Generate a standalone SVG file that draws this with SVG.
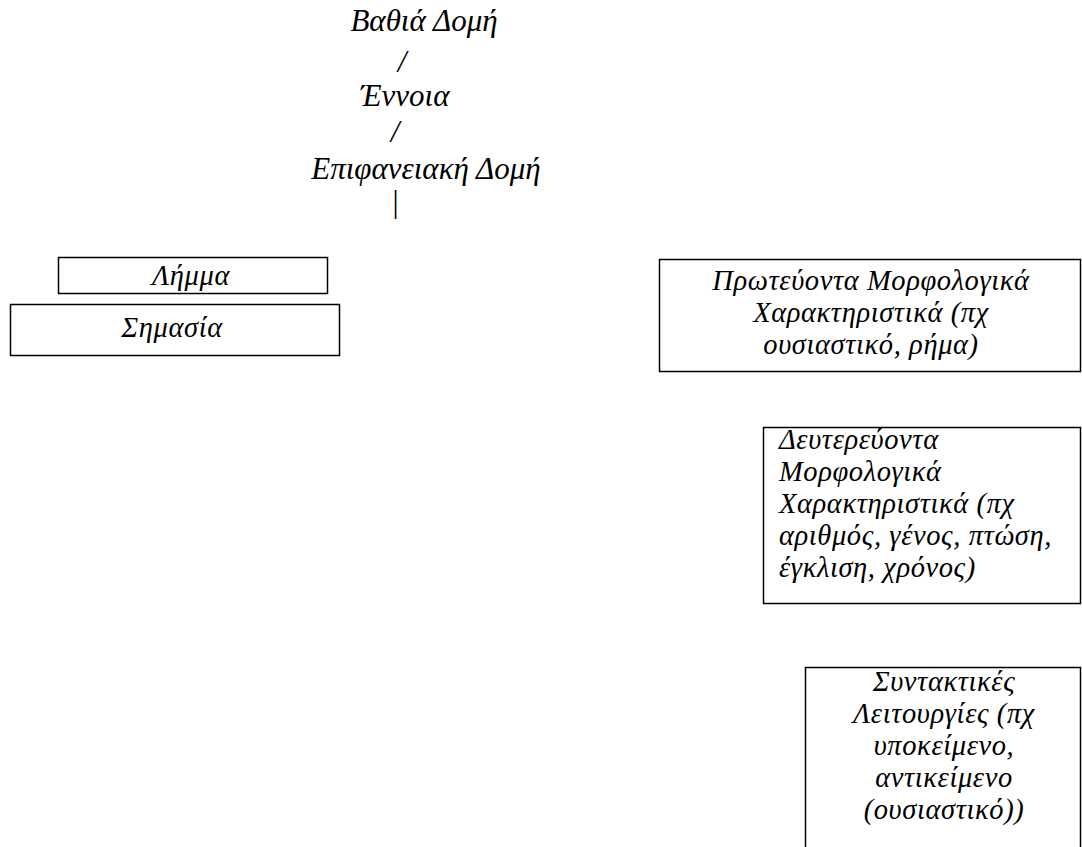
<svg xmlns="http://www.w3.org/2000/svg" width="1082" height="847" viewBox="0 0 1082 847">
<style>
text{font-family:"Liberation Serif","Times New Roman",serif;font-style:italic;font-size:31px;fill:#000}
.b text{font-size:28.5px;letter-spacing:0.6px}
.c{text-anchor:middle}
.box{fill:#fff;stroke:#000;stroke-width:1.5}
</style>
<rect width="1082" height="847" fill="#fff"/>
<g id="deep"><text class="c" x="424" y="31">Βαθιά Δομή</text></g>
<g id="connectors">
<text class="c" x="402" y="72">/</text>
<text class="c" x="395" y="142">/</text>
<text class="c" x="395" y="212">|</text>
</g>
<g id="concept"><text class="c" x="405" y="106">Έννοια</text></g>
<g id="surface"><text class="c" x="426" y="179">Επιφανειακή Δομή</text></g>
<g id="lemma" class="b"><rect class="box" x="58.5" y="257.5" width="269" height="36"/><text class="c" x="191" y="285">Λήμμα</text></g>
<g id="meaning" class="b"><rect class="box" x="10.5" y="304.5" width="329" height="51"/><text class="c" x="172" y="337">Σημασία</text></g>
<g id="primary" class="b"><rect class="box" x="659.5" y="259.5" width="421" height="112"/>
<text class="c" x="871" y="290">Πρωτεύοντα Μορφολογικά</text>
<text class="c" x="871" y="322">Χαρακτηριστικά (πχ</text>
<text class="c" x="871" y="354">ουσιαστικό, ρήμα)</text></g>
<g id="secondary" class="b"><rect class="box" x="763.5" y="427.5" width="317" height="176"/>
<text x="779" y="449">Δευτερεύοντα</text>
<text x="779" y="481">Μορφολογικά</text>
<text x="779" y="513">Χαρακτηριστικά (πχ</text>
<text x="779" y="545">αριθμός, γένος, πτώση,</text>
<text x="779" y="577">έγκλιση, χρόνος)</text></g>
<g id="syntactic" class="b"><rect class="box" x="805.5" y="667.5" width="275" height="200"/>
<text class="c" x="944" y="691">Συντακτικές</text>
<text class="c" x="944" y="723">Λειτουργίες (πχ</text>
<text class="c" x="944" y="755">υποκείμενο,</text>
<text class="c" x="944" y="787">αντικείμενο</text>
<text class="c" x="944" y="819">(ουσιαστικό))</text></g>
</svg>
